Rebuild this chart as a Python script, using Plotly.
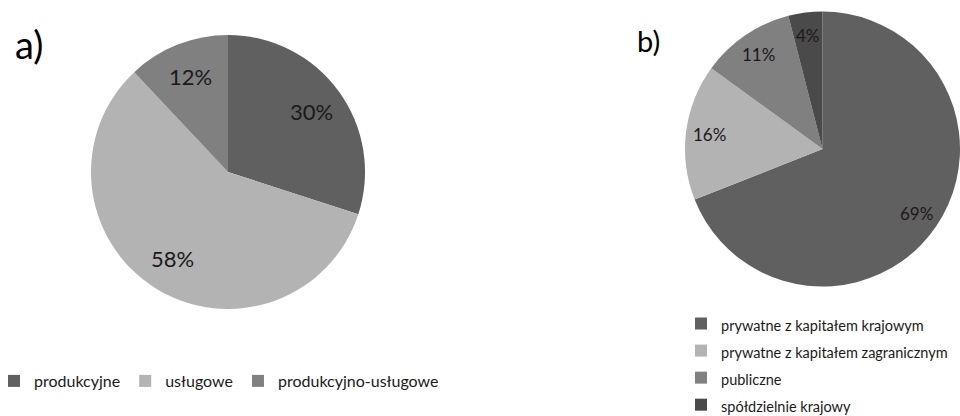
import math
import plotly.graph_objects as go

labels_a = ["produkcyjne", "usługowe", "produkcyjno-usługowe"]
values_a = [30, 58, 12]
colors_a = ["#606060", "#b3b3b3", "#808080"]

labels_b = ["prywatne z kapitałem krajowym", "prywatne z kapitałem zagranicznym",
            "publiczne", "spółdzielnie krajowy"]
values_b = [69, 16, 11, 4]
colors_b = ["#606060", "#b3b3b3", "#808080", "#4a4a4a"]

FONT = "Lato"
W, H = 960, 416

# pie domains in pixels (x0, x1, ytop, ybottom)
dom_a = (91, 365, 35, 309)
dom_b = (685, 960, 10, 288)


def dom(d):
    x0, x1, yt, yb = d
    return dict(x=[x0 / W, x1 / W], y=[1 - yb / H, 1 - yt / H])


def label_annotations(values, d, frac, size):
    x0, x1, yt, yb = d
    cx, cy = (x0 + x1) / 2, (yt + yb) / 2
    r = min(x1 - x0, yb - yt) / 2
    total = sum(values)
    out = []
    cum = 0
    for v in values:
        mid = (cum + v / 2) / total * 2 * math.pi
        cum += v
        px = cx + frac * r * math.sin(mid)
        py = cy - frac * r * math.cos(mid)
        out.append(dict(text=f"{v}%", x=px / W, y=1 - py / H, xref="paper", yref="paper",
                        xanchor="center", yanchor="middle", showarrow=False,
                        font=dict(family=FONT, size=size, color="#1a1a1a")))
    return out


legend_b_text = [f"<span style='font-size:14.5px'>{t}</span>" for t in labels_b]

fig = go.Figure()
fig.add_trace(go.Pie(
    labels=labels_a, values=values_a, sort=False, direction="clockwise", rotation=0,
    marker=dict(colors=colors_a, line=dict(width=0)),
    textinfo="none", textposition="none",
    domain=dom(dom_a),
    legend="legend", hoverinfo="label+percent",
))
fig.add_trace(go.Pie(
    labels=legend_b_text, values=values_b, sort=False, direction="clockwise", rotation=0,
    marker=dict(colors=colors_b, line=dict(width=0)),
    textinfo="none", textposition="none", customdata=labels_b,
    hovertemplate="%{customdata}<br>%{percent}<extra></extra>",
    domain=dom(dom_b),
    legend="legend2",
))

annotations = [
    dict(text="a)", x=13 / W, y=1 - 44 / H, xref="paper", yref="paper",
         xanchor="left", yanchor="middle", showarrow=False,
         font=dict(family=FONT, size=38, color="#000")),
    dict(text="b)", x=635 / W, y=1 - 40 / H, xref="paper", yref="paper",
         xanchor="left", yanchor="middle", showarrow=False,
         font=dict(family=FONT, size=29, color="#000")),
]
annotations += label_annotations(values_a, dom_a, 0.75, 22)
annotations += label_annotations(values_b, dom_b, 0.83, 17)

fig.update_layout(
    width=W, height=H,
    margin=dict(l=0, r=0, t=0, b=0, autoexpand=False),
    paper_bgcolor="white", plot_bgcolor="white",
    font=dict(family=FONT, color="#1a1a1a"),
    legend=dict(orientation="h", x=-6 / W, y=1 - 381 / H, xanchor="left", yanchor="middle",
                font=dict(family=FONT, size=16, color="#1a1a1a"), itemwidth=30),
    legend2=dict(orientation="v", x=681 / W, y=1 - 305 / H, xanchor="left", yanchor="top",
                 font=dict(family=FONT, size=18.5, color="#1a1a1a"), itemwidth=30),
    annotations=annotations,
)

fig.write_html("out.html")
